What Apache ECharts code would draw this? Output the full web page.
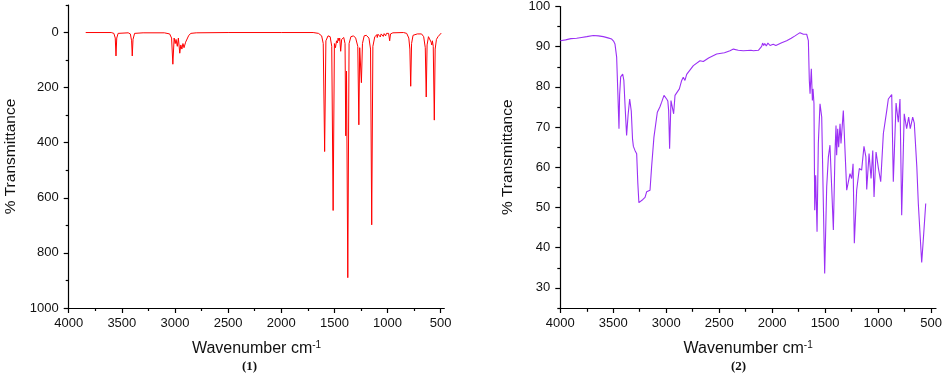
<!DOCTYPE html>
<html>
<head>
<meta charset="utf-8">
<script src="https://cdn.jsdelivr.net/npm/echarts@6/dist/echarts.min.js"></script>
<style>
html,body{margin:0;padding:0;background:#fff;}
#c{width:945px;height:373px;}
</style>
</head>
<body>
<div id="c"></div>
<script>
// ---- Data (wavenumber cm-1, transmittance) ----
var spectrum1 = [
 [3840,0],[3600,0],[3575,3],[3562,20],[3555,85],[3548,20],[3535,3],[3520,1],
 [3440,1],[3420,5],[3408,30],[3402,85],[3395,25],[3380,3],[3300,1],[3100,1],
 [3050,5],[3032,20],[3020,115],[3008,20],[2998,40],[2990,25],[2978,50],[2968,20],
 [2955,75],[2945,45],[2935,60],[2925,40],[2915,55],[2900,35],[2885,40],[2870,10],
 [2850,3],[2800,1],[2500,0],[2000,0],[1700,0],[1650,3],[1620,12],[1605,40],
 [1592,432],[1580,30],[1560,12],[1540,15],[1525,50],[1512,646],[1500,40],[1490,55],
 [1480,30],[1472,38],[1465,20],[1457,30],[1450,20],[1441,68],[1432,25],[1422,30],
 [1412,18],[1400,40],[1393,375],[1386,140],[1374,890],[1362,40],[1345,15],[1320,12],
 [1300,20],[1280,50],[1270,335],[1262,55],[1255,60],[1246,182],[1236,40],[1220,12],
 [1200,10],[1175,20],[1160,60],[1149,698],[1138,50],[1120,15],[1100,8],[1097,18],
 [1090,6],[1078,4],[1068,16],[1060,5],[1048,4],[1040,14],[1032,4],[1022,6],
 [1018,12],[1010,3],[990,3],[980,30],[972,5],[950,1],[850,0],[820,3],
 [800,20],[790,60],[782,195],[774,40],[760,10],[720,5],[680,5],[660,15],
 [645,55],[636,234],[628,45],[615,15],[600,15],[590,35],[584,45],[578,30],
 [570,50],[560,318],[552,60],[540,25],[525,15],[510,10],[495,2]
];
var spectrum2 = [
 [4000,91.5],[3950,91.7],[3900,92.0],[3846,92.1],[3800,92.3],[3750,92.5],[3688,92.8],[3640,92.7],
 [3594,92.5],[3550,92.2],[3515,91.9],[3495,91.3],[3484,90.7],[3468,87.4],[3456,78],[3446,69.6],
 [3440,78],[3430,82.5],[3411,83.2],[3400,81.6],[3388,75],[3374,67.9],[3360,73],[3345,77],
 [3339,77.3],[3330,74],[3318,67],[3310,65.2],[3295,64.2],[3279,63.4],[3268,56],[3258,51.2],
 [3240,51.2],[3220,52],[3200,52.5],[3185,53.9],[3170,54.2],[3153,54.3],[3138,60.1],[3116,67.5],
 [3084,73.7],[3060,75],[3043,76.2],[3021,77.9],[2996,77],[2985,76.5],[2977,74.1],[2968,64.6],
 [2955,76.6],[2939,76.8],[2930,73.3],[2917,77.9],[2900,77.5],[2876,79.5],[2854,81.6],[2839,82.4],
 [2823,81.6],[2807,83.1],[2744,85.3],[2681,86.5],[2650,86.3],[2600,87.2],[2524,88.2],[2450,88.5],
 [2398,89],[2366,89.4],[2320,89.1],[2272,89],[2200,89.1],[2178,89],[2130,89.1],[2115,89],
 [2099,90.1],[2090,90.9],[2080,90.3],[2070,90.8],[2055,90.2],[2040,90.9],[2020,90.3],[1990,90.6],
 [1975,91.0],[1965,90.3],[1957,90.4],[1910,91],[1863,91.5],[1820,92.1],[1784,92.7],[1737,93.5],
 [1705,93.1],[1674,93.1],[1658,91.5],[1649,81.6],[1642,78.3],[1630,84.5],[1620,76.6],[1614,79.5],
 [1605,75.8],[1598,49.3],[1589,58],[1576,44],[1564,65.9],[1548,75.8],[1532,72.5],[1523,60],
 [1504,33.6],[1485,55.1],[1469,62.6],[1454,65.5],[1438,55.1],[1422,44.4],[1406,64.2],[1397,70.4],
 [1391,63],[1381,69.6],[1372,65],[1359,70.8],[1350,65.9],[1328,74.1],[1312,74],[1296,54.3],
 [1280,54.6],[1265,58.4],[1249,57.2],[1236,60.9],[1224,41.1],[1202,54.3],[1177,59.7],[1155,59.3],
 [1133,65.2],[1115,62.6],[1107,54.5],[1085,63.4],[1066,57.2],[1050,64.2],[1038,52.6],[1019,63.8],
 [1007,61.7],[997,59.8],[975,56.4],[950,68.4],[918,74.1],[903,77],[871,78.1],[856,56.4],
 [830,76],[814,76.2],[809,71.2],[793,77],[777,48.1],[753,73.3],[730,69.6],[711,72.5],
 [696,69.6],[673,72.5],[658,71],[634,60.1],[620,51],[588,36.3],[569,43.5],[550,51]
];
var xMajorTicks = [500,1000,1500,2000,2500,3000,3500,4000];
var xMinorTicks = [750,1250,1750,2250,2750,3250,3750];
var y1MajorTicks = [0,200,400,600,800,1000];
var y1MinorTicks = [-100,100,300,500,700,900];
var y2MajorTicks = [30,40,50,60,70,80,90,100];
var y2MinorTicks = [25,35,45,55,65,75,85,95];

var FONT = '"Liberation Sans", Arial, sans-serif';
function plain(v){ return String(v); }
var labelStyle = {color:'#111', fontSize:13, fontFamily:FONT, formatter:plain};
var lineBlack = {show:true, onZero:false, lineStyle:{color:'#000', width:1.2}};
var tickStyle = {color:'#000', width:1.2};

function majorX(gi, min, gap){
  return {
    type:'value', gridIndex:gi, min:min, max:4000, inverse:true, position:'bottom',
    axisLine:lineBlack, splitLine:{show:false},
    axisTick:{show:true, length:5, customValues:xMajorTicks, lineStyle:tickStyle},
    axisLabel:Object.assign({margin:9, customValues:xMajorTicks}, labelStyle),
    name:'Wavenumber cm{s|-1}', nameLocation:'middle', nameGap:gap,
    nameTextStyle:{fontSize:16, fontFamily:FONT, color:'#111',
      rich:{s:{fontSize:10, fontFamily:FONT, color:'#111', verticalAlign:'top', padding:[0,0,8,0]}}}
  };
}
// minor-tick overlay axis: placed on the opposite side, then shifted onto the main axis line
function minorX(gi, min, h){
  return {
    type:'value', gridIndex:gi, min:min, max:4000, inverse:true, position:'top', offset:-h,
    axisLine:{show:false, onZero:false}, splitLine:{show:false},
    axisTick:{show:true, inside:true, length:3, customValues:xMinorTicks, lineStyle:tickStyle},
    axisLabel:{show:false}
  };
}
function minorY(gi, min, max, inv, ticks, w){
  return {
    type:'value', gridIndex:gi, min:min, max:max, inverse:inv, position:'right', offset:-w,
    axisLine:{show:false, onZero:false}, splitLine:{show:false},
    axisTick:{show:true, inside:true, length:3, customValues:ticks, lineStyle:tickStyle},
    axisLabel:{show:false}
  };
}

var chart = echarts.init(document.getElementById('c'), null, {renderer:'canvas'});
chart.setOption({
  animation:false,
  backgroundColor:'#fff',
  grid:[
    {left:68.7, top:5, width:375.6, height:303},
    {left:560.3, top:5.7, width:375.7, height:302.3}
  ],
  xAxis:[ majorX(0, 466, 32), minorX(0, 466, 303), majorX(1, 453, 32), minorX(1, 453, 302.3) ],
  yAxis:[
    {type:'value', gridIndex:0, min:-100, max:1000, inverse:true, position:'left',
     axisLine:lineBlack, splitLine:{show:false},
     axisTick:{show:true, length:5, customValues:y1MajorTicks, lineStyle:tickStyle},
     axisLabel:Object.assign({margin:10, customValues:y1MajorTicks}, labelStyle),
     name:'% Transmittance', nameLocation:'middle', nameGap:50, nameRotate:90,
     nameTextStyle:{fontSize:15.5, fontFamily:FONT, color:'#111'}},
    minorY(0, -100, 1000, true, y1MinorTicks, 375.6),
    {type:'value', gridIndex:1, min:25, max:100, position:'left',
     axisLine:lineBlack, splitLine:{show:false},
     axisTick:{show:true, length:5, customValues:y2MajorTicks, lineStyle:tickStyle},
     axisLabel:Object.assign({margin:10, customValues:y2MajorTicks}, labelStyle),
     name:'% Transmittance', nameLocation:'middle', nameGap:45, nameRotate:90,
     nameTextStyle:{fontSize:15.5, fontFamily:FONT, color:'#111'}},
    minorY(1, 25, 100, false, y2MinorTicks, 375.7)
  ],
  series:[
    {type:'line', xAxisIndex:0, yAxisIndex:0, data:spectrum1, showSymbol:false, symbol:'none',
     lineStyle:{color:'#ff0000', width:1}, silent:true},
    {type:'line', xAxisIndex:2, yAxisIndex:2, data:spectrum2, showSymbol:false, symbol:'none',
     lineStyle:{color:'#9b30f5', width:1.1}, silent:true}
  ],
  graphic:[
    {type:'text', left:242, top:360, style:{text:'(1)', font:'bold 13px "Liberation Serif", "Times New Roman", serif', fill:'#111'}},
    {type:'text', left:731, top:360, style:{text:'(2)', font:'bold 13px "Liberation Serif", "Times New Roman", serif', fill:'#111'}}
  ]
});
</script>
</body>
</html>
